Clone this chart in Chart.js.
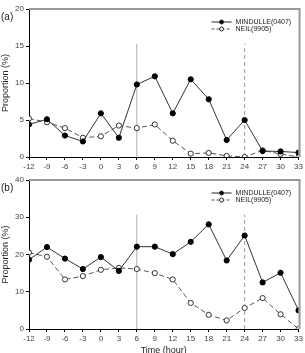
<!DOCTYPE html>
<html>
<head>
<meta charset="utf-8">
<script src="https://cdn.jsdelivr.net/npm/chart.js@4.4.0/dist/chart.umd.min.js"></script>
<style>
  html, body { margin: 0; padding: 0; background: #fff; }
  #wrap { position: relative; width: 305px; height: 353px; overflow: hidden; }
  .pane { position: absolute; left: 0; }
</style>
</head>
<body>
<div id="wrap">
  <div class="pane" style="top:0;width:305px;height:170px"><canvas id="chartA"></canvas></div>
  <div class="pane" style="top:170px;width:305px;height:183px"><canvas id="chartB"></canvas></div>
</div>
<script>
// horas relativas
const HOURS = [-12, -9, -6, -3, 0, 3, 6, 9, 12, 15, 18, 21, 24, 27, 30, 33];

// (a)
const MINDULLE_A = [4.4, 5.1, 2.9, 2.1, 5.9, 2.6, 9.8, 10.9, 5.9, 10.5, 7.8, 2.3, 5.0, 0.8, 0.75, 0.6];
const NEIL_A     = [5.2, 4.7, 3.9, 2.6, 2.8, 4.25, 3.9, 4.4, 2.2, 0.45, 0.55, 0.15, 0.0, 0.9, 0.4, 0.0];

// (b)
const MINDULLE_B = [18.6, 22.0, 18.9, 16.1, 19.3, 15.6, 22.1, 22.1, 20.1, 23.4, 28.1, 18.4, 25.1, 12.5, 15.1, 5.0];
const NEIL_B     = [20.5, 19.4, 13.3, 14.2, 15.9, 16.4, 16.1, 15.0, 13.3, 7.0, 3.8, 2.3, 5.65, 8.3, 3.95, 0.0];

const SERIES_NAMES = ['MINDULLE(0407)', 'NEIL(9905)'];
const REF_HOURS = [6, 24];
const REF_TOP_A = 15.3;
const REF_TOP_B = 30.7;

const FONT = 'Liberation Sans, Arial, sans-serif';
const toPts = vals => HOURS.map((h, i) => ({ x: h, y: vals[i] }));

// marco gris arriba/derecha, leyenda y etiqueta del panel
const decor = {
  id: 'decor',
  afterDraw(chart, args, opts) {
    const { ctx, chartArea: a } = chart;
    ctx.save();
    ctx.strokeStyle = '#999';
    ctx.lineWidth = 2;
    ctx.beginPath();
    ctx.moveTo(a.left, a.top);
    ctx.lineTo(a.right + 1, a.top);
    ctx.lineTo(a.right + 1, a.bottom);
    ctx.stroke();

    // etiqueta (a)/(b)
    ctx.fillStyle = '#222';
    ctx.font = '10px ' + FONT;
    ctx.textBaseline = 'middle';
    ctx.fillText(opts.tag, 1, a.top + 8);

    // leyenda
    const x0 = a.right - 87, x1 = x0 + 20;
    const rows = [a.top + 13, a.top + 20];
    ctx.font = '7px ' + FONT;
    rows.forEach((y, i) => {
      ctx.strokeStyle = i === 0 ? '#222' : '#555';
      ctx.lineWidth = 1;
      ctx.setLineDash(i === 0 ? [] : [3, 2]);
      ctx.beginPath();
      ctx.moveTo(x0, y);
      ctx.lineTo(x1, y);
      ctx.stroke();
      ctx.setLineDash([]);
      ctx.beginPath();
      ctx.arc((x0 + x1) / 2, y, 2, 0, Math.PI * 2);
      ctx.fillStyle = i === 0 ? '#000' : '#fff';
      ctx.fill();
      ctx.strokeStyle = '#222';
      ctx.stroke();
      ctx.fillStyle = '#222';
      ctx.fillText(SERIES_NAMES[i], x1 + 4, y);
    });
    ctx.restore();
  }
};

function makeChart(id, dataM, dataN, yMax, yStep, refTop, tag, xHeight, xTitle) {
  const datasets = [
    {
      data: toPts(dataM), borderColor: '#333', borderWidth: 1,
      pointRadius: 2.6, pointBackgroundColor: '#000', pointBorderColor: '#000', pointBorderWidth: 1,
      order: 1
    },
    {
      data: toPts(dataN), borderColor: '#555', borderWidth: 1, borderDash: [5, 3],
      pointRadius: 2.6, pointBackgroundColor: '#fff', pointBorderColor: '#333', pointBorderWidth: 1,
      order: 2
    },
    {
      data: [{ x: REF_HOURS[0], y: 0 }, { x: REF_HOURS[0], y: refTop }],
      borderColor: '#aaa', borderWidth: 1, pointRadius: 0, order: 3
    },
    {
      data: [{ x: REF_HOURS[1], y: 0 }, { x: REF_HOURS[1], y: refTop }],
      borderColor: '#999', borderWidth: 1, borderDash: [4, 3], pointRadius: 0, order: 3
    }
  ];

  return new Chart(document.getElementById(id), {
    type: 'line',
    data: { datasets },
    plugins: [decor],
    options: {
      responsive: true,
      maintainAspectRatio: false,
      animation: false,
      layout: { padding: { top: id === 'chartA' ? 9 : 10, right: 5, left: 0, bottom: 0 } },
      plugins: {
        legend: { display: false },
        tooltip: { enabled: false },
        decor: { tag }
      },
      scales: {
        x: {
          type: 'linear', min: -12, max: 33,
          afterFit: s => { s.height = xHeight; },
          border: { display: true, color: '#000', width: 1 },
          grid: { drawOnChartArea: false, drawTicks: true, tickLength: 3, color: '#000' },
          ticks: { stepSize: 3, padding: 2, color: '#444', font: { family: FONT, size: 8 }, maxRotation: 0, autoSkip: false },
          title: {
            display: !!xTitle, text: xTitle || '', color: '#222',
            font: { family: FONT, size: 9 }, padding: { top: 0, bottom: -3 }
          }
        },
        y: {
          min: 0, max: yMax,
          afterFit: s => { s.width = 29; },
          border: { display: true, color: '#000', width: 1 },
          grid: { drawOnChartArea: false, drawTicks: true, tickLength: 3, color: '#000' },
          ticks: { stepSize: yStep, padding: 2, color: '#444', font: { family: FONT, size: 8 } },
          title: {
            display: true, text: 'Proportion (%)', color: '#222',
            font: { family: FONT, size: 9 }, padding: 0
          }
        }
      }
    }
  });
}

makeChart('chartA', MINDULLE_A, NEIL_A, 20, 5, REF_TOP_A, '(a)', 13, null);
makeChart('chartB', MINDULLE_B, NEIL_B, 40, 10, REF_TOP_B, '(b)', 24, 'Time (hour)');
</script>
</body>
</html>
